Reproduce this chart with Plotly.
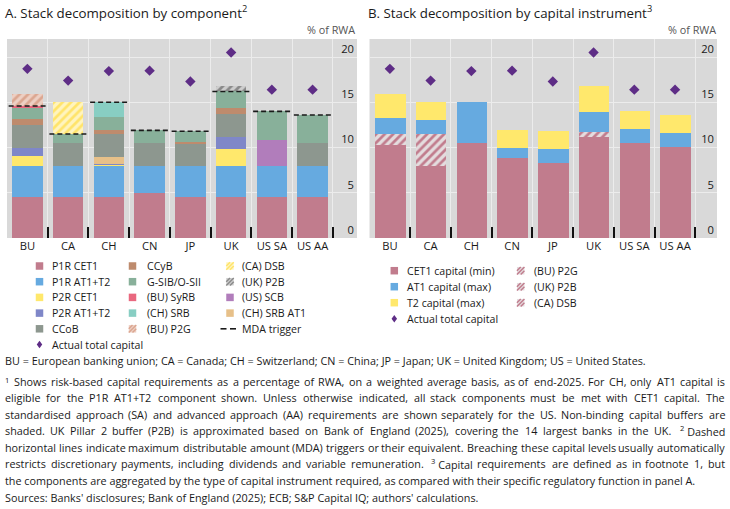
import re
import plotly.graph_objects as go

W, H = 730, 509
FONT = "Open Sans"
TXT = "#1a1a1a"
GRID = "#ECECEC"
BG = "#D9D9D9"

cats = ["BU", "CA", "CH", "CN", "JP", "UK", "US SA", "US AA"]
y_ticks = [0, 5, 10, 15, 20]

# ---- Panel A: stack decomposition by component (% of RWA) ----
p1r_cet1 = [4.5, 4.5, 4.5, 5.0, 4.5, 4.5, 4.5, 4.5]
p1r_at1t2 = [3.5, 3.5, 3.5, 3.0, 3.5, 3.5, 3.5, 3.5]
p2r_cet1 = [1.1, 0, 0.1, 0, 0, 1.8, 0, 0]
p2r_at1t2 = [0.9, 0, 0.1, 0, 0, 1.4, 0, 0]
ch_srb_at1 = [0, 0, 0.75, 0, 0, 0, 0, 0]
ccob = [2.5, 2.5, 2.5, 2.5, 2.5, 2.5, 0, 2.5]
us_scb = [0, 0, 0, 0, 0, 0, 2.8, 0]
ccyb = [0.7, 0, 0.5, 0, 0.1, 0.7, 0, 0]
gsib_osii = [1.2, 1.0, 1.45, 1.4, 1.2, 1.8, 3.2, 3.1]
bu_syrb = [0.2, 0, 0, 0, 0, 0, 0, 0]
ch_srb = [0, 0, 1.6, 0, 0, 0, 0, 0]
bu_p2g = [1.3, 0, 0, 0, 0, 0, 0, 0]
ca_dsb = [0, 3.5, 0, 0, 0, 0, 0, 0]
uk_p2b = [0, 0, 0, 0, 0, 0.6, 0, 0]
mda_trigger = [14.6, 11.5, 15.0, 11.9, 11.8, 16.2, 14.0, 13.6]
actual_total = [18.7, 17.4, 18.45, 18.5, 17.3, 20.5, 16.4, 16.4]

# ---- Panel B: stack decomposition by capital instrument (% of RWA) ----
cet1_min = [10.3, 8.0, 10.55, 8.9, 8.3, 11.2, 10.45, 10.1]
b_bu_p2g = [1.2, 0, 0, 0, 0, 0, 0, 0]
b_uk_p2b = [0, 0, 0, 0, 0, 0.55, 0, 0]
b_ca_dsb = [0, 3.5, 0, 0, 0, 0, 0, 0]
at1_max = [1.8, 1.5, 4.45, 1.0, 1.5, 2.2, 1.55, 1.5]
t2_max = [2.6, 2.0, 0, 2.0, 2.0, 2.85, 2.0, 2.0]

C = dict(
    pink="#C17C8D", blue="#66AAE0", yellow="#FFE86C", purpleblue="#7F87C8",
    ccob="#8D978F", ccyb="#BE8B6D", gsib="#88B09A", syrb="#E9687F",
    srb="#88CEC3", scb="#B17DBB", srbat1="#E7C089", diamond="#5E2D86",
)
HATCH = dict(
    p2g=("#EDCFC3", "#DBA690"),
    dsb=("#FFF4BE", "#FFE46A"),
    p2b=("#CDCDCD", "#8A8A8A"),
    pinkh=("#E4DCDE", "#C17C8D"),
)

xs = list(range(len(cats)))
fig = go.Figure()


def bar(vals, color, xa, ya, hatch=None):
    if hatch:
        bgc, fgc = hatch
        marker = dict(color=bgc, line=dict(width=0),
                      pattern=dict(shape="/", bgcolor=bgc, fgcolor=fgc, size=6,
                                   solidity=0.45, fgopacity=1))
    else:
        marker = dict(color=color, line=dict(width=0))
    fig.add_trace(go.Bar(x=xs, y=vals, width=0.75, marker=marker, xaxis=xa, yaxis=ya,
                         showlegend=False, hoverinfo="skip"))


# Panel A stack
bar(p1r_cet1, C["pink"], "x", "y")
bar(p1r_at1t2, C["blue"], "x", "y")
bar(p2r_cet1, C["yellow"], "x", "y")
bar(p2r_at1t2, C["purpleblue"], "x", "y")
bar(ch_srb_at1, C["srbat1"], "x", "y")
bar(ccob, C["ccob"], "x", "y")
bar(us_scb, C["scb"], "x", "y")
bar(ccyb, C["ccyb"], "x", "y")
bar(gsib_osii, C["gsib"], "x", "y")
bar(bu_syrb, C["syrb"], "x", "y")
bar(ch_srb, C["srb"], "x", "y")
bar(bu_p2g, None, "x", "y", HATCH["p2g"])
bar(ca_dsb, None, "x", "y", HATCH["dsb"])
bar(uk_p2b, None, "x", "y", HATCH["p2b"])

# MDA trigger dashed lines
mx, my = [], []
for i, v in enumerate(mda_trigger):
    mx += [i - 0.46, i + 0.46, None]
    my += [v, v, None]
fig.add_trace(go.Scatter(x=mx, y=my, mode="lines", xaxis="x", yaxis="y",
                         line=dict(color="#1a1a1a", width=1.6, dash="5px,3px"),
                         showlegend=False, hoverinfo="skip"))
fig.add_trace(go.Scatter(x=xs, y=actual_total, mode="markers", xaxis="x", yaxis="y",
                         marker=dict(symbol="diamond", size=8, color=C["diamond"]),
                         showlegend=False, hoverinfo="skip"))

# Panel B stack
bar(cet1_min, C["pink"], "x2", "y2")
bar(b_bu_p2g, None, "x2", "y2", HATCH["pinkh"])
bar(b_uk_p2b, None, "x2", "y2", HATCH["pinkh"])
bar(b_ca_dsb, None, "x2", "y2", HATCH["pinkh"])
bar(at1_max, C["blue"], "x2", "y2")
bar(t2_max, C["yellow"], "x2", "y2")
fig.add_trace(go.Scatter(x=xs, y=actual_total, mode="markers", xaxis="x2", yaxis="y2",
                         marker=dict(symbol="diamond", size=8, color=C["diamond"]),
                         showlegend=False, hoverinfo="skip"))


def px(x):
    return x / W


def py(y):
    return 1 - y / H


Y_TOP, Y_BOT = 39, 238
ydom = [py(Y_BOT), py(Y_TOP)]
TICKF = 11.2


def xaxis(dom, r):
    return dict(domain=dom, range=[-0.5, r], tickmode="array", tickvals=xs, ticktext=cats,
                ticks="inside", ticklen=1, tickwidth=0.1, tickcolor="rgba(0,0,0,0)",
                showgrid=False, zeroline=False, showline=False,
                tickfont=dict(size=TICKF, color=TXT, family=FONT),
                minor=dict(tickmode="array", tickvals=[i - 0.5 for i in range(len(cats) + 1)],
                           ticks="inside", ticklen=11, tickwidth=2, tickcolor="#111111",
                           showgrid=True, gridcolor=GRID, gridwidth=1),
                fixedrange=True)


def yaxis(anchor):
    return dict(domain=ydom, range=[0, 22], side="right", anchor=anchor, tickmode="array",
                tickvals=y_ticks, ticks="", ticklabelposition="inside", ticklabelshift=-8,
                showgrid=True, gridcolor=GRID, gridwidth=1, zeroline=False, showline=False,
                tickfont=dict(size=TICKF, color=TXT, family=FONT), fixedrange=True)


fig.update_layout(
    width=W, height=H, autosize=False,
    margin=dict(l=0, r=0, t=0, b=0, pad=0),
    paper_bgcolor="white", plot_bgcolor=BG,
    barmode="stack", bargap=0, showlegend=False,
    font=dict(family=FONT, color=TXT, size=11),
    xaxis=xaxis([px(7), px(357)], 8.09),
    yaxis=yaxis("x"),
    xaxis2=xaxis([px(369.5), px(717)], 8.03),
    yaxis2=dict(yaxis("x2")),
)

shapes = []
ann = []


def text(x, y, s, size=11, anchor="left", color=TXT):
    ann.append(dict(x=px(x), y=py(y), xref="paper", yref="paper", text=s, showarrow=False,
                    xanchor=anchor, yanchor="middle", borderpad=0, borderwidth=0,
                    font=dict(size=size, color=color, family=FONT)))


def swatch(cx, cy, color, s=7.5):
    shapes.append(dict(type="rect", xref="paper", yref="paper", x0=px(cx - s / 2), x1=px(cx + s / 2),
                       y0=py(cy + s / 2), y1=py(cy - s / 2), fillcolor=color, line=dict(width=0)))


def hswatch(cx, cy, hatch, s=7.5):
    bgc, fgc = hatch
    swatch(cx, cy, bgc, s)
    x0, x1, y0, y1 = cx - s / 2, cx + s / 2, cy - s / 2, cy + s / 2
    h = s / 2
    segs = [((x0, y0 + h), (x0 + h, y0)), ((x0, y1), (x1, y0)), ((x0 + h, y1), (x1, y0 + h))]
    for (a, b) in segs:
        shapes.append(dict(type="line", xref="paper", yref="paper", x0=px(a[0]), y0=py(a[1]),
                           x1=px(b[0]), y1=py(b[1]), line=dict(color=fgc, width=1.4)))


def diamond(cx, cy, w=5.5, h=7.5):
    path = "M {} {} L {} {} L {} {} L {} {} Z".format(
        px(cx), py(cy - h / 2), px(cx + w / 2), py(cy), px(cx), py(cy + h / 2), px(cx - w / 2), py(cy))
    shapes.append(dict(type="path", xref="paper", yref="paper", path=path,
                       fillcolor=C["diamond"], line=dict(width=0)))


def dashes(x0, cy):
    for a, b in [(x0, x0 + 6), (x0 + 9.5, x0 + 15.5)]:
        shapes.append(dict(type="line", xref="paper", yref="paper", x0=px(a), x1=px(b),
                           y0=py(cy), y1=py(cy), line=dict(color="#1a1a1a", width=1.6)))


# Titles
text(5, 12, "A. Stack decomposition by component<sup>2</sup>", size=13.3)
text(368, 12, "B. Stack decomposition by capital instrument<sup>3</sup>", size=13.3)
text(355, 30, "% of RWA", size=10.8, anchor="right", color="#555555")
text(716, 30, "% of RWA", size=10.8, anchor="right", color="#555555")

# Legend A
LF = 10.6
rowsA = [266, 281.7, 297.4, 313.1, 328.8, 344.5]
TA = [52, 146.5, 242]
c1 = [("P1R CET1", C["pink"]), ("P1R AT1+T2", C["blue"]), ("P2R CET1", C["yellow"]),
      ("P2R AT1+T2", C["purpleblue"]), ("CCoB", C["ccob"])]
for i, (lab, col) in enumerate(c1):
    swatch(39.5, rowsA[i], col)
    text(TA[0], rowsA[i], lab, size=LF)
diamond(39.5, rowsA[5])
text(TA[0], rowsA[5], "Actual total capital", size=LF)
c2 = [("CCyB", C["ccyb"]), ("G-SIB/O-SII", C["gsib"]), ("(BU) SyRB", C["syrb"]), ("(CH) SRB", C["srb"])]
for i, (lab, col) in enumerate(c2):
    swatch(132.5, rowsA[i], col)
    text(TA[1], rowsA[i], lab, size=LF)
hswatch(132.5, rowsA[4], HATCH["p2g"])
text(TA[1], rowsA[4], "(BU) P2G", size=LF)
hswatch(230, rowsA[0], HATCH["dsb"])
text(TA[2], rowsA[0], "(CA) DSB", size=LF)
hswatch(230, rowsA[1], HATCH["p2b"])
text(TA[2], rowsA[1], "(UK) P2B", size=LF)
swatch(230, rowsA[2], C["scb"])
text(TA[2], rowsA[2], "(US) SCB", size=LF)
swatch(230, rowsA[3], C["srbat1"])
text(TA[2], rowsA[3], "(CH) SRB AT1", size=LF)
dashes(220.5, rowsA[4])
text(TA[2], rowsA[4], "MDA trigger", size=LF)

# Legend B
rowsB = [270.7, 286.7, 302.7, 318.7]
for i, (lab, col) in enumerate([("CET1 capital (min)", C["pink"]), ("AT1 capital (max)", C["blue"]),
                                ("T2 capital (max)", C["yellow"])]):
    swatch(394.3, rowsB[i], col)
    text(407, rowsB[i], lab, size=LF)
diamond(394.3, rowsB[3])
text(407, rowsB[3], "Actual total capital", size=LF)
for i, lab in enumerate(["(BU) P2G", "(UK) P2B", "(CA) DSB"]):
    hswatch(520.7, rowsB[i], HATCH["pinkh"])
    text(533.5, rowsB[i], lab, size=LF)

# ---- Footnotes (justified paragraph emulated word by word) ----
FN = 10.8
SCALE = 1.0
CW = {" ": .260, "!": .267, "'": .221, "(": .297, ")": .297, "+": .572, ",": .245, "-": .322,
      ".": .266, "/": .367, ":": .266, ";": .266, "=": .572, "&": .715, "\u00a0": .260,
      "A": .633, "B": .648, "C": .631, "D": .729, "E": .556, "F": .516, "G": .728, "H": .738,
      "I": .279, "J": .267, "K": .614, "L": .524, "M": .903, "N": .765, "O": .780, "P": .602,
      "Q": .780, "R": .635, "S": .556, "T": .557, "U": .734, "V": .592, "W": .904, "X": .585,
      "Y": .559, "Z": .560, "a": .553, "b": .603, "c": .476, "d": .603, "e": .563, "f": .336,
      "g": .541, "h": .614, "i": .254, "j": .254, "k": .524, "l": .254, "m": .930, "n": .614,
      "o": .604, "p": .603, "q": .603, "r": .408, "s": .477, "t": .353, "u": .614, "v": .503,
      "w": .783, "x": .527, "y": .504, "z": .475}


def tw(s):
    w = 0.0
    for m in re.finditer(r"<sup>(.*?)</sup>|([^<]+)", s):
        sup = m.group(1) is not None
        part = m.group(1) if sup else m.group(2)
        f = 0.7 if sup else 1.0
        for ch in part.replace("&amp;", "&"):
            w += CW.get(ch, 0.572) * f
    return w * FN * SCALE


def justify(y, s, x0=5, x1=725):
    words = s.split(" ")
    widths = [tw(w) for w in words]
    n = len(words)
    gap = (x1 - x0 - sum(widths)) / (n - 1)
    half = n // 2
    pos = x0
    for i in range(half):
        text(pos, y, words[i], size=FN)
        pos += widths[i] + gap
    pos = x1
    for i in range(n - 1, half - 1, -1):
        text(pos, y, words[i], size=FN, anchor="right")
        pos -= widths[i] + gap


NB = "\u00a0"
text(5, 360, "BU = European banking union; CA = Canada; CH = Switzerland; CN = China; JP = Japan; "
             "UK = United Kingdom; US = United States.", size=FN)
text(5, 380, "<sup>1</sup>", size=FN)
justify(381, "Shows risk-based capital requirements as a percentage of RWA, on a weighted average basis, "
             "as of end-2025. For CH, only AT1 capital is", x0=14)
justify(397.5, "eligible for the P1R AT1+T2 component shown. Unless otherwise indicated, all stack "
               "components must be met with CET1 capital. The")
justify(414, "standardised approach (SA) and advanced approach (AA) requirements are shown separately "
             "for the US. Non-binding capital buffers are")
justify(430.5, "shaded. UK Pillar 2 buffer (P2B) is approximated based on Bank of England (2025), covering "
               "the 14 largest banks in the UK." + NB + " <sup>2</sup>" + NB + "Dashed")
justify(447, "horizontal lines indicate maximum distributable amount (MDA) triggers or their equivalent. "
             "Breaching these capital levels usually automatically")
justify(463.5, "restricts discretionary payments, including dividends and variable remuneration." + NB +
               " <sup>3</sup>" + NB + "Capital requirements are defined as in footnote 1, but")
text(5, 480, "the components are aggregated by the type of capital instrument required, as compared with "
             "their specific regulatory function in panel A.", size=FN)
text(5, 497, "Sources: Banks' disclosures; Bank of England (2025); ECB; S&amp;P Capital IQ; authors' "
             "calculations.", size=FN)

fig.update_layout(shapes=shapes, annotations=ann)
fig.write_html("out.html", config=dict(displayModeBar=False))
